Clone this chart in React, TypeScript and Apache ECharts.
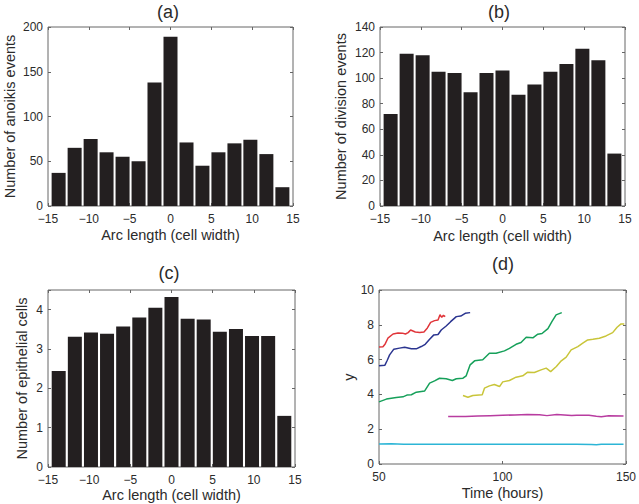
import React, { useEffect, useRef } from "react";
import * as echarts from "echarts";

const binCenters = [-13.7, -11.74, -9.78, -7.83, -5.87, -3.91, -1.96, 0, 1.96, 3.91, 5.87, 7.83, 9.78, 11.74, 13.7];
const anoikisEvents = [37, 65, 75, 60, 55, 50, 138, 189, 71, 45, 60, 70, 74, 58, 21];
const divisionEvents = [72, 119, 118, 105, 104, 89, 104, 106, 87, 95, 105, 111, 123, 114, 41];
const epithelialCells = [2.44, 3.31, 3.42, 3.39, 3.57, 3.8, 4.05, 4.32, 3.77, 3.75, 3.44, 3.51, 3.33, 3.33, 1.3];

const redTrack = [[50, 6.72], [51.6, 6.74], [52.5, 6.9], [53.6, 7.23], [55.7, 7.47], [57.7, 7.53], [59.5, 7.52], [60.7, 7.47], [61.8, 7.55], [62.8, 7.7], [64.7, 7.59], [66.5, 7.56], [68.2, 7.59], [69.6, 7.82], [70.9, 8.14], [72.5, 8.24], [73.9, 8.27], [74.7, 8.58], [75.4, 8.43], [76.1, 8.55], [76.8, 8.47]];
const blueTrack = [[50, 5.64], [52.4, 5.68], [53.3, 5.95], [54.3, 6.27], [56, 6.6], [58.3, 6.66], [60.4, 6.71], [63.1, 6.62], [65.1, 6.62], [67.1, 6.75], [68.7, 6.88], [70.5, 7.17], [72.2, 7.42], [73.9, 7.44], [75.2, 7.7], [77.2, 7.93], [79, 8.18], [81.3, 8.47], [83.1, 8.5], [84.9, 8.66], [86.9, 8.7]];
const greenTrack = [[50, 3.57], [53, 3.73], [57, 3.82], [59.7, 3.86], [61.3, 3.96], [63.1, 3.98], [65.1, 4.13], [68.5, 4.2], [70.5, 4.65], [72.5, 4.78], [74.5, 4.93], [77.2, 4.9], [79.7, 4.8], [81.3, 4.9], [84, 4.93], [85.3, 5.07], [86.9, 5.7], [88.7, 5.93], [92, 5.99], [94.7, 6.37], [97.4, 6.37], [100.8, 6.5], [102.8, 6.65], [105.5, 6.88], [107.5, 6.98], [109.6, 7.28], [112.3, 7.25], [114.3, 7.46], [116, 7.5], [118.4, 7.78], [120, 8.18], [121.7, 8.57], [124, 8.7]];
const yellowTrack = [[84, 3.94], [86, 3.84], [88, 3.94], [91.8, 3.98], [92.7, 4.36], [94.7, 4.49], [96.7, 4.57], [98.8, 4.45], [100.1, 4.72], [102.8, 4.8], [105.5, 4.99], [108.2, 5.07], [110.2, 5.28], [112.9, 5.26], [115.6, 5.41], [117.7, 5.51], [119.5, 5.31], [121.8, 5.6], [123.8, 5.93], [125.8, 6.14], [127.8, 6.56], [130.5, 6.75], [132.5, 6.94], [134.5, 7.13], [136.6, 7.17], [139.2, 7.23], [141.9, 7.36], [144.6, 7.55], [146.4, 7.86], [148, 8.05], [149.3, 8.05]];
const magentaTrack = [[78, 2.73], [85, 2.73], [90, 2.76], [95, 2.78], [100, 2.8], [105, 2.82], [110, 2.85], [115, 2.83], [118, 2.78], [122, 2.85], [125, 2.82], [128, 2.79], [130, 2.8], [135, 2.8], [138, 2.75], [140, 2.72], [143, 2.77], [149, 2.76]];
const cyanTrack = [[50, 1.15], [55, 1.16], [60, 1.14], [100, 1.14], [130, 1.13], [136, 1.12], [138, 1.1], [140, 1.13], [149, 1.13]];

const FONT = "Liberation Sans, Arial, sans-serif";
const TEXT = "#2b2b2b";
const FRAME = "#666";

const fmt = (v: number) => String(v).replace("-", "\u2212");

function axisPair(kind: "x" | "y", gridIndex: number, min: number, max: number, interval: number, name: string, nameGap: number, labelMax?: number) {
  const main: any = {
    type: "value",
    gridIndex,
    min,
    max,
    interval,
    position: kind === "x" ? "bottom" : "left",
    name,
    nameLocation: "middle",
    nameGap,
    nameTextStyle: { fontFamily: FONT, fontSize: 14.5, color: TEXT },
    axisLine: { show: false, onZero: false },
    axisTick: { show: true, inside: true, length: 3, lineStyle: { color: FRAME } },
    splitLine: { show: false },
    axisLabel: {
      fontFamily: FONT,
      fontSize: 12,
      color: TEXT,
      margin: kind === "x" ? 7 : 5,
      formatter: (v: number) => (labelMax !== undefined && v > labelMax ? "" : fmt(v)),
    },
  };
  const twin: any = {
    type: "value",
    gridIndex,
    min,
    max,
    interval,
    position: kind === "x" ? "top" : "right",
    axisLine: { show: false, onZero: false },
    axisTick: { show: true, inside: true, length: 3, lineStyle: { color: FRAME } },
    splitLine: { show: false },
    axisLabel: { show: false },
  };
  return [main, twin];
}

export default function App() {
  const ref = useRef<HTMLDivElement>(null);
  useEffect(() => {
    if (!ref.current) return;
    const chart = echarts.init(ref.current, undefined, { renderer: "svg" });
    const grids = [
      { left: 48, top: 27, width: 245, height: 179 },
      { left: 380, top: 27, width: 245, height: 179 },
      { left: 48, top: 290, width: 247, height: 177 },
      { left: 379, top: 290, width: 248, height: 174 },
    ].map((g) => ({ ...g, show: true, borderColor: FRAME, borderWidth: 1, backgroundColor: "transparent", containLabel: false }));

    const xAxes = [
      ...axisPair("x", 0, -15, 15, 5, "Arc length (cell width)", 21),
      ...axisPair("x", 1, -15, 15, 5, "Arc length (cell width)", 22),
      ...axisPair("x", 2, -15, 15, 5, "Arc length (cell width)", 20.5),
      ...axisPair("x", 3, 50, 150, 50, "Time (hours)", 21.5),
    ];
    const yAxes = [
      ...axisPair("y", 0, 0, 200, 50, "Number of anoikis events", 31),
      ...axisPair("y", 1, 0, 140, 20, "Number of division events", 32),
      ...axisPair("y", 2, 0, 4.5, 1, "Number of epithelial cells", 19, 4),
      ...axisPair("y", 3, 0, 10, 2, "y", 22.5),
    ];

    const barSeries = (idx: number, values: number[]) => ({
      type: "bar",
      xAxisIndex: idx * 2,
      yAxisIndex: idx * 2,
      barWidth: 14,
      itemStyle: { color: "#231f20" },
      data: binCenters.map((c, i) => [c, values[i]]),
    });
    const lineSeries = (data: number[][], color: string) => ({
      type: "line",
      xAxisIndex: 6,
      yAxisIndex: 6,
      showSymbol: false,
      symbol: "none",
      lineStyle: { color, width: 1.5 },
      data,
    });

    const titleAt = (text: string, left: number, top: number) => ({
      text,
      left,
      top,
      padding: 0,
      textAlign: "center",
      textStyle: { fontFamily: FONT, fontSize: 18, fontWeight: "normal", color: TEXT },
    });

    chart.setOption({
      animation: false,
      backgroundColor: "#fff",
      title: [
        titleAt("(a)", 168, 3),
        titleAt("(b)", 499, 3),
        titleAt("(c)", 169, 264),
        titleAt("(d)", 503, 255),
      ],
      grid: grids,
      xAxis: xAxes,
      yAxis: yAxes,
      series: [
        barSeries(0, anoikisEvents),
        barSeries(1, divisionEvents),
        barSeries(2, epithelialCells),
        lineSeries(redTrack, "#e0353a"),
        lineSeries(blueTrack, "#2b3590"),
        lineSeries(greenTrack, "#16a05a"),
        lineSeries(yellowTrack, "#c9c53a"),
        lineSeries(magentaTrack, "#b83ca0"),
        lineSeries(cyanTrack, "#2cb5d6"),
      ],
    });
    return () => chart.dispose();
  }, []);
  return <div ref={ref} style={{ width: 639, height: 504, position: "absolute", left: 0, top: 0 }} />;
}
